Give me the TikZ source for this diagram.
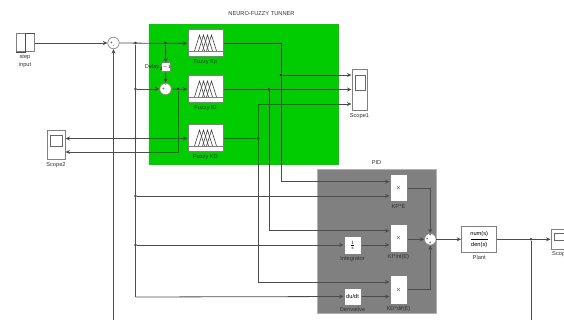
\documentclass[tikz,border=0pt]{standalone}
\usepackage{fontspec}
\setmainfont{Liberation Sans}
\usepackage{tikz}
\usetikzlibrary{positioning,calc,arrows.meta}

\definecolor{tunergreen}{RGB}{0,204,0}
\definecolor{pidgray}{RGB}{128,128,128}

\tikzset{
  wire/.style={draw=black!70, line width=0.8pt},
  feed/.style={wire, ->},
  block/.style={draw=black!50, line width=1pt, fill=white, inner sep=0pt, font=\fontsize{5.7}{6.5}\selectfont},
  scopebox/.style={block},
  screen/.style={draw=black!60, line width=0.7pt, fill=white, inner sep=0pt},
  sumnode/.style={circle, draw=black!45, line width=0.7pt, fill=white, inner sep=0pt, minimum size=11.5pt},
  sign/.style={inner sep=0pt, font=\fontsize{4.5}{5}\selectfont},
  lbl/.style={inner sep=0pt, text=black!80, font=\fontsize{5.7}{6.5}\selectfont},
  dot/.style={circle, fill=black!85, inner sep=0pt, minimum size=2.8pt},
}

% one fuzzy block: name, centre x, centre y
\newcommand{\fuzzyblock}[3]{
  \node[block, minimum width=35pt, minimum height=27pt] (#1) at (#2,#3) {};
  \draw[black!50, line width=0.9pt] ($(#1.west)+(0,7.5)$) -- ($(#1.east)+(0,7.5)$);
  \foreach \dx in {-6,-2,2,6} {
    \draw[black!75, line width=0.6pt] ($(#1.center)+(\dx-5,7.5)$) -- ($(#1.center)+(\dx,-8.5)$) -- ($(#1.center)+(\dx+5,7.5)$);
  }
}

\begin{document}
\begin{tikzpicture}[>={Stealth[length=4.5pt,width=4pt]}, x=1pt, y=-1pt]
  \useasboundingbox (0,0) rectangle (564,320);
  \clip (0,0) rectangle (564,320);

  %--- Shaded subsystems
  \node[fill=tunergreen, minimum width=190pt, minimum height=141pt, inner sep=0pt] (tuner) at (244,94.8) {};
  \node[lbl] (tunertitle) at (261.5,13.5) {NEURO-FUZZY TUNNER};
  \node[fill=pidgray, draw=black!30, line width=0.5pt, minimum width=119pt, minimum height=143.5pt, inner sep=0pt] (pid) at (376.5,241.3) {};
  \node[lbl] (pidtitle) at (376.5,163) {PID};

  %--- Source and first summing point
  \node[block, minimum width=18pt, minimum height=18pt] (step) at (25,43) {};
  \draw[black!70, line width=0.7pt] (step.south west) -- (step.south) -- (step.north) -- (step.north east);
  \node[lbl] (steplbl) at (25,57) {step};
  \node[lbl] (inputlbl) at (25,65) {input};
  \node[sumnode] (sumin) at (113.5,43) {};
  \node[sign] (suminp) at (111.5,43) {+};
  \node[sign] (suminm) at (113.5,46.5) {-};

  %--- Fuzzy blocks
  \fuzzyblock{kp}{205.5}{43.5}
  \node[lbl, below=2pt of kp] (kplbl) {Fuzzy Kp};
  \fuzzyblock{ki}{205.5}{89.5}
  \node[lbl, below=2pt of ki] (kilbl) {Fuzzy KI};
  \fuzzyblock{kd}{205.5}{138.5}
  \node[lbl, below=2pt of kd] (kdlbl) {Fuzzy KD};

  \node[block, minimum width=9.5pt, minimum height=9pt] (delay) at (165.8,67.5) {};
  \node[sign] (delaytxt) at (165.8,67.5) {z$^{-1}$};
  \node[lbl, left=1pt of delay] (delaylbl) {Delay};
  \node[sumnode] (sumde) at (165.5,89) {};
  \node[sign] (sumdep) at (163.5,89) {+};
  \node[sign] (sumdem) at (165.5,86) {-};

  %--- Scopes
  \node[scopebox, minimum width=15pt, minimum height=41pt] (scopeone) at (359.5,90) {};
  \node[screen, minimum width=10.5pt, minimum height=15pt] (scopeonescr) at (360.3,82.5) {};
  \node[lbl, below=2pt of scopeone] (scopeonelbl) {Scope1};

  \node[scopebox, minimum width=18pt, minimum height=29pt] (scopetwo) at (56,145.5) {};
  \node[screen, minimum width=12.5pt, minimum height=11pt] (scopetwoscr) at (56.3,140.5) {};
  \node[lbl, below=2pt of scopetwo] (scopetwolbl) {Scope2};

  \node[scopebox, minimum width=22pt, minimum height=20pt] (scopeout) at (562,239) {};
  \node[screen, minimum width=16pt, minimum height=7pt] (scopeoutscr) at (562,236.5) {};
  \node[lbl, anchor=west] (scopeoutlbl) at (552,254) {Scop};

  %--- PID blocks
  \node[block, minimum width=17pt, minimum height=27pt] (kpe) at (398.5,188.5) {$\times$};
  \node[lbl, below=2pt of kpe] (kpelbl) {KP*E};
  \node[block, minimum width=17pt, minimum height=28pt] (kie) at (398.5,238) {$\times$};
  \node[lbl, below=2pt of kie] (kielbl) {KI*int(E)};
  \node[block, minimum width=17pt, minimum height=29pt] (kde) at (398.5,289.5) {$\times$};
  \node[lbl, below=2pt of kde] (kdelbl) {KD*dif(E)};
  \node[block, minimum width=17pt, minimum height=18pt] (integ) at (352.5,245) {$\frac{1}{\mathrm{s}}$};
  \node[lbl, below=2pt of integ] (integlbl) {Integrator};
  \node[block, minimum width=17pt, minimum height=17pt] (deriv) at (352.5,296.5) {du/dt};
  \node[lbl, below=2pt of deriv] (derivlbl) {Derivative};
  \node[sumnode] (sumpid) at (430.3,239.3) {};
  \node[sign] (sumpidl) at (427.3,239.3) {+};
  \node[sign] (sumpidt) at (430.3,235.5) {+};
  \node[sign] (sumpidb) at (430.3,243) {+};

  %--- Plant
  \node[block, minimum width=35pt, minimum height=26.5pt, align=center] (plant) at (479.2,239.3) {num(s)\\[-0.5pt]\rule[1.5pt]{17pt}{0.5pt}\\[-1.5pt]den(s)};
  \node[lbl, below=2pt of plant] (plantlbl) {Plant};

  %--- Branch points
  \node[dot] (jerr) at (135.5,43) {};
  \node[dot] (jdelay) at (165.5,43) {};
  \node[dot] (jde) at (135.5,89) {};
  \node[dot] (jrate) at (178,89) {};
  \node[dot] (jscope) at (135.5,138.5) {};
  \node[dot] (jkpe) at (135.5,196) {};
  \node[dot] (jint) at (135.5,245) {};
  \node[dot] (jkp) at (281,75) {};
  \node[dot] (jki) at (269,89.5) {};
  \node[dot] (jkd) at (258,138.5) {};
  \node[dot] (jout) at (531,239.3) {};
  \coordinate (fbend) at (531,320);
  \coordinate (fbin) at (113.5,320);
  \coordinate (jder) at (135.5,297);

  %--- Error and its branches
  \draw[feed] (step) -- (sumin);
  \draw[feed] (sumin) -- (kp);
  \draw[feed] (fbin) -- (sumin);
  \draw[wire] (jerr) -- (jder);
  \draw[feed] (jdelay) -- (delay);
  \draw[feed] (delay) -- (sumde);
  \draw[feed] (jde) -- (sumde);
  \draw[feed] (sumde) -- (ki);
  \draw[feed] (jrate) |- ($(scopetwo.east)+(0,6.5)$);
  \draw[feed] (jscope) -- (kd.west |- jscope);
  \draw[feed] (jscope) -- (scopetwo.east |- jscope);

  %--- Gains to the first scope and the PID
  \draw[wire] (kp) -| (jkp);
  \draw[feed] (jkp) -- (scopeone.west |- jkp);
  \draw[feed] (jkp) |- (kpe.west |- 0,181.7);
  \draw[feed] (ki) -- (scopeone.west |- ki);
  \draw[feed] (jki) |- (kie.west |- 0,230.7);
  \draw[wire] (kd) -- (jkd);
  \draw[feed] (jkd) |- (scopeone.west |- 0,104);
  \draw[feed] (jkd) |- (kde.west |- 0,282);

  %--- Error into the PID
  \draw[feed] (jkpe) -- (kpe.west |- jkpe);
  \draw[feed] (jint) -- (integ);
  \draw[feed] (integ) -- (kie.west |- integ);
  \draw[feed] (jder) -- (deriv);
  \draw[feed] (deriv) -- (kde.west |- deriv);

  %--- PID sum, plant and feedback
  \draw[feed] (kpe) -| (sumpid);
  \draw[feed] (kie.east |- sumpid) -- (sumpid);
  \draw[feed] (kde) -| (sumpid);
  \draw[feed] (sumpid) -- (plant);
  \draw[feed] (plant) -- (scopeout.west |- plant);
  \draw[wire] (jout) -- (fbend);
\end{tikzpicture}
\end{document}
